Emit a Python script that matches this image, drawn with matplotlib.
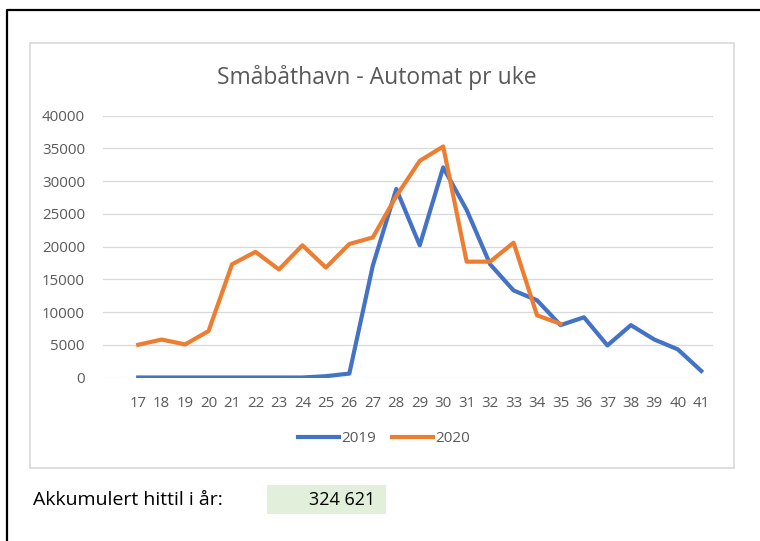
import matplotlib
matplotlib.use("Agg")
import matplotlib.pyplot as plt
from matplotlib.patches import Rectangle
from matplotlib.lines import Line2D

plt.rcParams["font.family"] = ["Open Sans", "DejaVu Sans"]

weeks = list(range(17, 42))
v2019 = [0, 0, 0, 0, 0, 0, 0, 0, 200, 600, 17100, 28800, 20200, 32100, 25600,
         17300, 13300, 11800, 8000, 9200, 4900, 8000, 5800, 4300, 1000]
weeks_2020 = list(range(17, 36))
v2020 = [5000, 5800, 5050, 7100, 17300, 19200, 16500, 20200, 16800, 20400, 21400,
         27700, 33100, 35300, 17700, 17700, 20600, 9500, 8200]
series_names = ["2019", "2020"]
y_ticks = [0, 5000, 10000, 15000, 20000, 25000, 30000, 35000, 40000]
title = "Småbåthavn - Automat pr uke"
total_label = "Akkumulert hittil i år:"
total_value = "324 621"

W, H = 760, 541
fig = plt.figure(figsize=(W / 100, H / 100), dpi=100)


def fx(px):
    return px / W


def fy(py):
    return 1 - py / H


# outer black frame (top + left)
fig.add_artist(Line2D([fx(7), fx(7), 1.0], [0.0, fy(10), fy(10)], color="black", lw=1.6))
# chart area box (behind the axes)
fig.add_artist(Rectangle((fx(30), fy(468)), fx(734) - fx(30), fy(43) - fy(468),
                         facecolor="white", edgecolor="#d9d9d9", lw=1.2, zorder=-1))

ax = fig.add_axes([fx(103), fy(377.5), fx(713) - fx(103), fy(115.7) - fy(377.5)])
ax.plot(weeks, v2019, color="#4472C4", lw=3.0, label=series_names[0])
ax.plot(weeks_2020, v2020, color="#ED7D31", lw=3.0, label=series_names[1])
ax.set_xlim(15.5, 41.5)
ax.set_ylim(0, 40000)
ax.set_xticks(weeks)
ax.set_xticklabels([str(w) for w in weeks])
ax.set_yticks(y_ticks)
ax.set_yticklabels([str(v) for v in y_ticks])
ax.tick_params(axis="both", length=0, labelsize=10.8, labelcolor="#595959")
ax.tick_params(axis="x", pad=13)
ax.tick_params(axis="y", pad=13)
ax.grid(axis="y", color="#d9d9d9", lw=0.9)
ax.set_axisbelow(True)
for s in ax.spines.values():
    s.set_visible(False)
ax.patch.set_alpha(0)

fig.text(fx(377), fy(77), title, ha="center", va="center", fontsize=16.5, color="#595959")

fig.legend(loc="center", bbox_to_anchor=(fx(384), fy(439)), ncol=2, frameon=False,
           fontsize=11, handlelength=2.7, handletextpad=0.15, columnspacing=1.0,
           labelcolor="#595959")

# accumulated total
fig.add_artist(Rectangle((fx(267), fy(514)), fx(386) - fx(267), fy(485) - fy(514),
                         facecolor="#e2efda", edgecolor="none", zorder=-1))
fig.text(fx(33), fy(500), total_label, ha="left", va="center", fontsize=14, color="black")
fig.text(fx(375), fy(500), total_value, ha="right", va="center", fontsize=13, color="black")

fig.savefig("out.png", dpi=100)
